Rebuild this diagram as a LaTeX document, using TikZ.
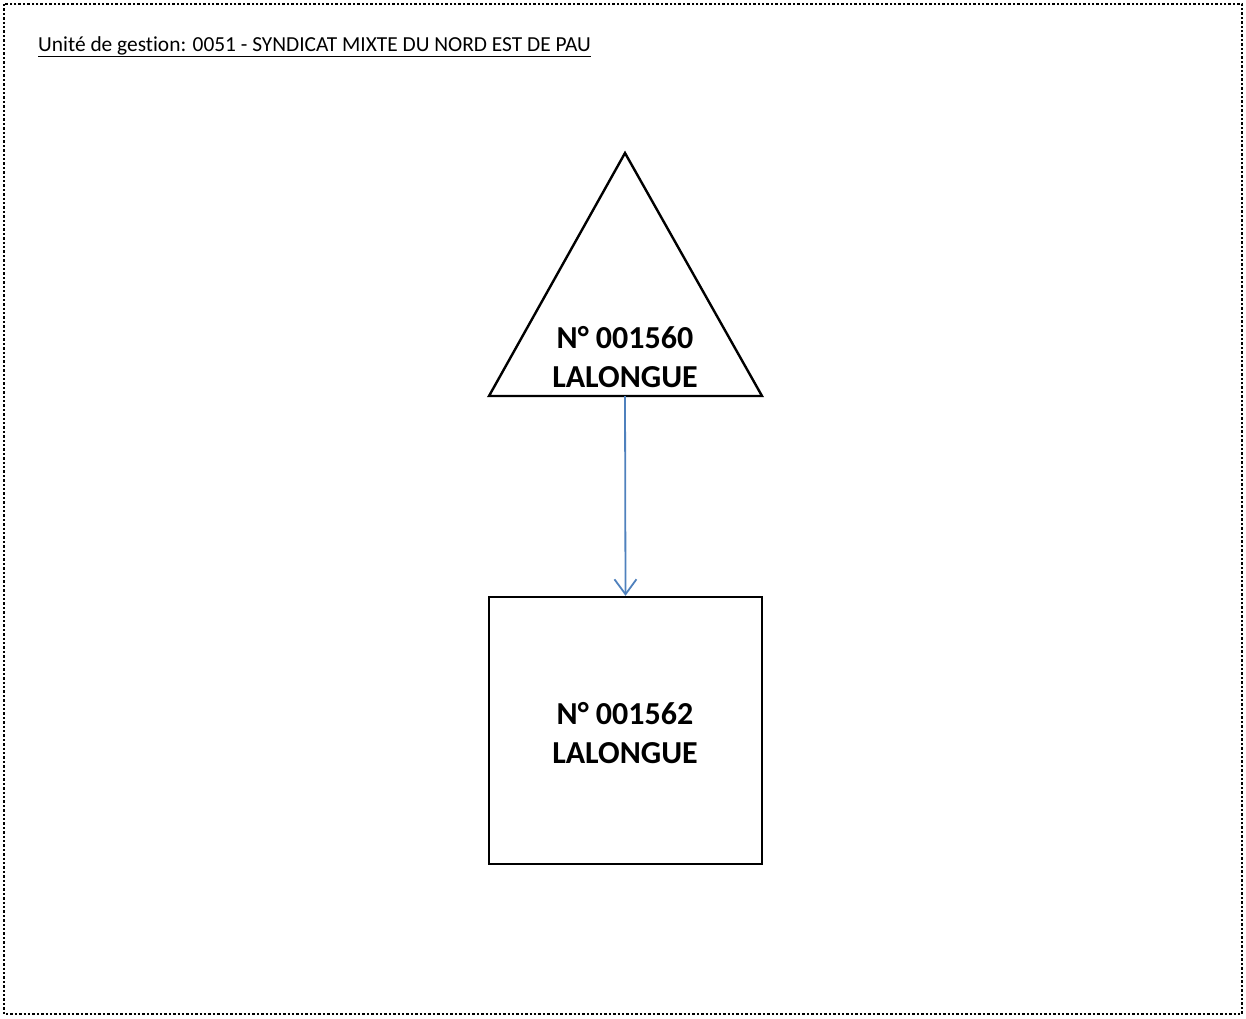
\documentclass[tikz,border=0pt]{standalone}
\usepackage{fontspec}
\setmainfont{Carlito}[Ligatures=NoCommon]
\usetikzlibrary{arrows.meta}
\definecolor{arrowblue}{RGB}{79,129,189}
\tikzset{
  frame/.style={draw=black, line width=2.4pt, dash pattern=on 2.4pt off 2pt},
  shapeline/.style={draw=black, line width=2.4pt},
  boxnode/.style={shapeline, minimum width=273pt, minimum height=267pt, inner sep=0pt},
  label/.style={font=\fontsize{32}{39}\selectfont\bfseries, align=center, inner sep=0pt},
  link/.style={draw=arrowblue, line width=1.8pt, -{Straight Barb[length=15pt, width=22pt, line width=1.8pt]}}
}
\begin{document}
\begin{tikzpicture}[x=1pt, y=-1pt]
\useasboundingbox (0,0) rectangle (1246,1018);
\draw[frame] (4,4) rectangle (1242,1014);
\node[anchor=base west, inner sep=0pt, font=\fontsize{21.4}{24}\selectfont] (title) at (38,51) {\underline{Unité de gestion: 0051 - SYNDICAT MIXTE DU NORD EST DE PAU}};
\coordinate (apex) at (625,153);
\coordinate (bl) at (489,396);
\coordinate (br) at (762,396);
\coordinate (tribase) at (625,396);
\draw[shapeline, line join=miter] (apex) -- (br) -- (bl) -- cycle;
\node[label] (tritext) at (625,357) {N° 001560\\LALONGUE};
\node[boxnode] (box) at (625.5,730.5) {};
\node[label] (boxtext) at (625,733) {N° 001562\\LALONGUE};
\draw[link] (tribase) -- (box.north);
\end{tikzpicture}
\end{document}
